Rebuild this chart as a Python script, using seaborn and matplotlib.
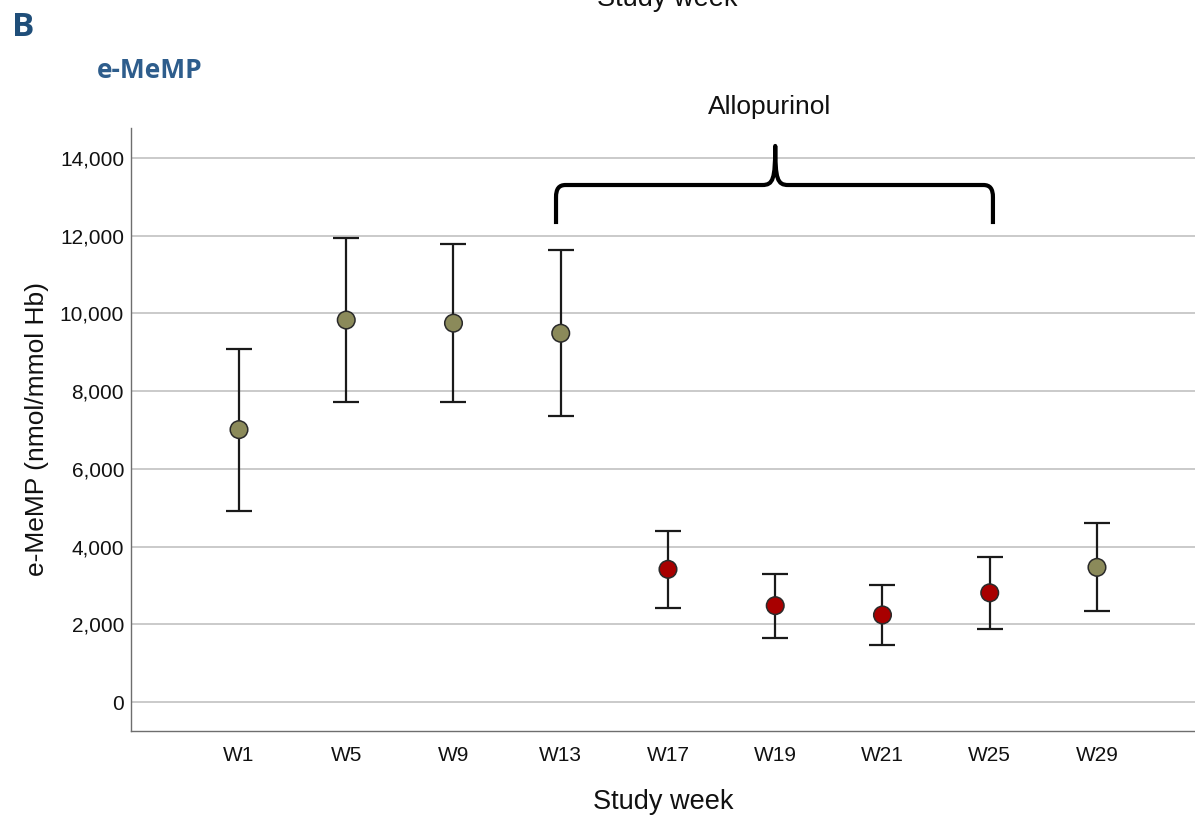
import matplotlib
matplotlib.use("Agg")
import matplotlib.pyplot as plt
import seaborn as sns
import pandas as pd
import numpy as np
from matplotlib.path import Path
from matplotlib.patches import PathPatch
from matplotlib.ticker import FuncFormatter

# ---- data ----
weeks = ["W1", "W5", "W9", "W13", "W17", "W19", "W21", "W25", "W29"]
means = [7010, 9830, 9750, 9490, 3415, 2480, 2240, 2810, 3465]
upper = [9090, 11940, 11780, 11620, 4410, 3290, 3020, 3720, 4610]
lower = [4915, 7720, 7730, 7350, 2410, 1655, 1475, 1890, 2340]
phase = ["Off", "Off", "Off", "Off", "Allopurinol", "Allopurinol", "Allopurinol", "Allopurinol", "Off"]
yticks = [0, 2000, 4000, 6000, 8000, 10000, 12000, 14000]

bracket_label = "Allopurinol"
bracket_from, bracket_to, bracket_mid = "W13", "W25", "W19"
bracket_level, bracket_foot, bracket_peak = 13305, 12300, 14310

df = pd.DataFrame({"week": weeks, "mean": means, "upper": upper, "lower": lower, "phase": phase})

OLIVE = "#8b8a5a"
RED = "#a80000"

sns.set_theme(style="white")
plt.rcParams["font.family"] = ["Liberation Sans", "DejaVu Sans"]

fig = plt.figure(figsize=(11.95, 8.17), dpi=100)
ax = fig.add_axes([131 / 1195, 1 - 731 / 817, 1 - 131 / 1195, (731 - 128) / 817])

for y in yticks:
    ax.axhline(y, color="#c6c6c6", lw=1.3, zorder=0)

yerr = np.array([np.array(means) - np.array(lower), np.array(upper) - np.array(means)])
ax.errorbar(weeks, means, yerr=yerr, fmt="none", ecolor="#1a1a1a",
            elinewidth=1.6, capsize=9.5, capthick=1.6, zorder=2)

sns.scatterplot(data=df, x="week", y="mean", hue="phase",
                palette={"Off": OLIVE, "Allopurinol": RED},
                s=160, edgecolor="#2a2a2a", linewidth=1.1, legend=False, ax=ax, zorder=3)

ax.set_xlim(-1.007, 8.914)
ax.set_ylim(-746, 14772)
ax.set_yticks(yticks)
ax.yaxis.set_major_formatter(FuncFormatter(lambda v, p: f"{int(v):,}"))
ax.tick_params(axis="both", length=0, labelsize=15, colors="#111111")
ax.tick_params(axis="x", pad=11)
ax.tick_params(axis="y", pad=5)

for s in ["top", "right"]:
    ax.spines[s].set_visible(False)
for s in ["left", "bottom"]:
    ax.spines[s].set_color("#6e6e6e")
    ax.spines[s].set_linewidth(1.0)

ax.set_xlabel("Study week", fontsize=19.5, labelpad=17, color="#111111")
ax.set_ylabel("e-MeMP (nmol/mmol Hb)", fontsize=19, labelpad=8, color="#111111")

# bracket
x0 = weeks.index(bracket_from) - 0.044
x1 = weeks.index(bracket_to) + 0.03
xm = weeks.index(bracket_mid)
r_x, r_y = 0.09, 320
verts = [
    (x0, bracket_foot), (x0, bracket_level - r_y),
    (x0, bracket_level - r_y * 0.3), (x0 + r_x * 0.3, bracket_level), (x0 + r_x, bracket_level),
    (xm - 0.12, bracket_level),
    (xm - 0.02, bracket_level), (xm, bracket_level + 150), (xm, bracket_peak),
    (xm, bracket_level + 150), (xm + 0.02, bracket_level), (xm + 0.12, bracket_level),
    (x1 - r_x, bracket_level),
    (x1 - r_x * 0.3, bracket_level), (x1, bracket_level - r_y * 0.3), (x1, bracket_level - r_y),
    (x1, bracket_foot),
]
codes = [Path.MOVETO, Path.LINETO,
         Path.CURVE4, Path.CURVE4, Path.CURVE4,
         Path.LINETO,
         Path.CURVE4, Path.CURVE4, Path.CURVE4,
         Path.CURVE4, Path.CURVE4, Path.CURVE4,
         Path.LINETO,
         Path.CURVE4, Path.CURVE4, Path.CURVE4,
         Path.LINETO]
ax.add_patch(PathPatch(Path(verts, codes), facecolor="none", edgecolor="black",
                       lw=3.0, capstyle="butt", joinstyle="round", zorder=4, clip_on=False))
fig.text(770 / 1195, 1 - 107 / 817, bracket_label, ha="center", va="center",
         fontsize=19, color="#111111")

# panel labels
fig.text(12 / 1195, 1 - 28 / 817, "B", ha="left", va="center", fontsize=24,
         fontweight="bold", color="#1f4e79", family=["Open Sans", "DejaVu Sans"])
fig.text(97 / 1195, 1 - 70 / 817, "e-MeMP", ha="left", va="center", fontsize=19,
         fontweight="bold", color="#2e5d8c", family=["Open Sans", "DejaVu Sans"])
# clipped title from the panel above (cut at the top edge, as in the reference)
fig.text(667 / 1195, 1 - 6 / 817, "Study week", ha="center", va="baseline",
         fontsize=19.5, color="#111111")

fig.savefig("out.png", dpi=100)
